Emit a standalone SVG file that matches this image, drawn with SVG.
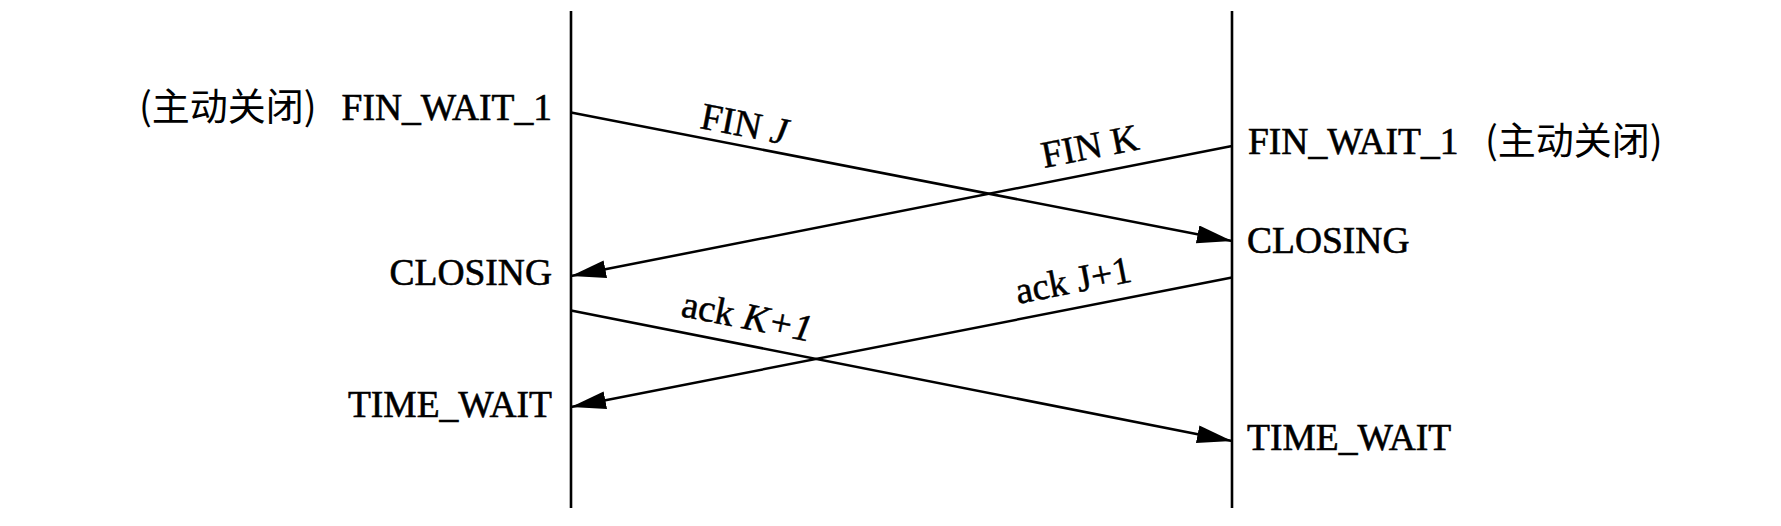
<svg xmlns="http://www.w3.org/2000/svg" width="1781" height="526" viewBox="0 0 1781 526">
<style>
.lbl{font-family:"Liberation Serif","Times New Roman",serif;font-size:37.5px;fill:#000;stroke:#000;stroke-width:0.6}
.tag{font-family:"Liberation Serif","Times New Roman",serif;font-size:38px;fill:#000;stroke:#000;stroke-width:0.5}
.cjk{font-family:"Noto Sans CJK SC","Noto Sans",sans-serif;font-size:38px;fill:#000}
.life{stroke:#000;stroke-width:2.6;fill:none}
.msg{stroke:#000;stroke-width:2.5;fill:none;marker-end:url(#ah)}
.it{font-style:italic}
</style>
<defs>
<marker id="ah" markerUnits="userSpaceOnUse" markerWidth="38" markerHeight="20" refX="35" refY="9" orient="auto">
<path d="M0,0 L35,9 L0,18 Z" fill="#000"/>
</marker>
</defs>
<rect width="1781" height="526" fill="#fff"/>
<g id="lifelines">
<line class="life" x1="571" y1="11" x2="571" y2="508"/>
<line class="life" x1="1232" y1="11" x2="1232" y2="508"/>
</g>
<g id="left-states">
<text class="cjk" x="139" y="120">(主动关闭)</text>
<text class="lbl" x="552" y="120" text-anchor="end">FIN_WAIT_1</text>
<text class="lbl" x="552" y="285" text-anchor="end">CLOSING</text>
<text class="lbl" x="552" y="417" text-anchor="end">TIME_WAIT</text>
</g>
<g id="right-states">
<text class="lbl" x="1248" y="154">FIN_WAIT_1</text>
<text class="cjk" x="1485" y="154">(主动关闭)</text>
<text class="lbl" x="1247" y="253">CLOSING</text>
<text class="lbl" x="1247" y="450">TIME_WAIT</text>
</g>
<g id="connectors">
<line class="msg" x1="571" y1="112.5" x2="1232" y2="241"/>
<line class="msg" x1="1232" y1="146" x2="571" y2="276"/>
<line class="msg" x1="1232" y1="277.5" x2="571" y2="407"/>
<line class="msg" x1="571" y1="310.5" x2="1232" y2="441"/>
</g>
<g id="labels">
<text class="tag" transform="translate(699,128) rotate(11)">FIN <tspan class="it">J</tspan></text>
<text class="tag" transform="translate(1044,168) rotate(-11.1)">FIN K</text>
<text class="tag" transform="translate(680,316) rotate(11.2)">ack <tspan class="it">K+1</tspan></text>
<text class="tag" transform="translate(1018,304) rotate(-11.1)">ack J+1</text>
</g>
</svg>
